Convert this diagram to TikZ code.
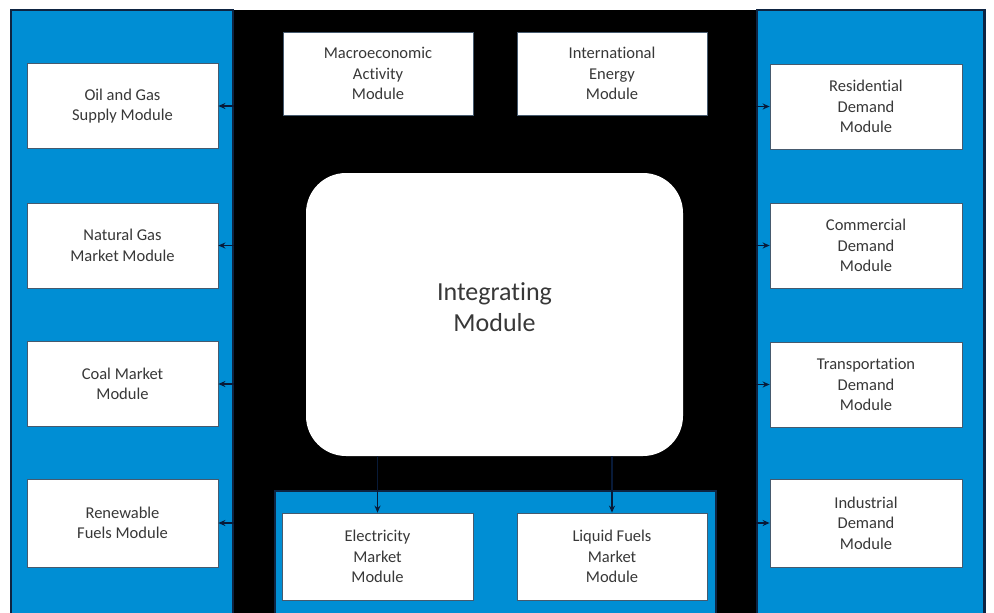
\documentclass[tikz,border=0pt]{standalone}
\usepackage{fontspec}
\setmainfont{Carlito}[Ligatures=NoCommon]
\usetikzlibrary{arrows.meta}
\definecolor{panelblue}{RGB}{0,142,212}
\definecolor{navy}{RGB}{14,36,66}
\definecolor{arrowc}{RGB}{8,26,56}
\definecolor{boxline}{RGB}{70,90,110}
\definecolor{txt}{RGB}{56,56,56}
\begin{document}
\begin{tikzpicture}[x=1pt,y=-1pt,
  modbox/.style={draw=boxline, line width=0.8pt, fill=white, minimum width=191pt,
    minimum height=85pt, align=center, font=\fontsize{16.5}{20.5}\selectfont,
    text=txt, inner sep=0pt},
  panel/.style={draw=navy, line width=1.5pt, fill=panelblue, inner sep=0pt},
  link/.style={-{Stealth[length=7pt,width=6pt]}, draw=arrowc, line width=1.2pt}]
\useasboundingbox (0,0) rectangle (994,613);
\clip (0,0) rectangle (994,613);
\fill[white] (0,0) rectangle (994,613);
% panels
\node[fill=black, inner sep=0pt, minimum width=524pt, minimum height=610pt] (cp) at (495,315) {};
\node[panel, minimum width=222pt, minimum height=610pt] (lp) at (122,315) {};
\node[panel, minimum width=227pt, minimum height=610pt] (rp) at (870.5,315) {};
\draw[navy, line width=3pt] (rp.north east) -- (rp.south east);
\node[panel, minimum width=441pt, minimum height=129pt] (bp) at (495.5,555.5) {};
% left modules
\node[modbox] (oil) at (122.5,106) {Oil and Gas\\Supply Module};
\node[modbox] (ng)  at (122.5,245.5) {Natural Gas\\Market Module};
\node[modbox] (coal) at (122.5,384) {Coal Market\\Module};
\node[modbox, minimum height=88pt] (ren) at (122.5,523) {Renewable\\Fuels Module};
% right modules
\node[modbox, minimum width=192pt] (res) at (866,106.5) {Residential\\Demand\\Module};
\node[modbox, minimum width=192pt] (com) at (866,245.5) {Commercial\\Demand\\Module};
\node[modbox, minimum width=192pt] (tra) at (866,384.5) {Transportation\\Demand\\Module};
\node[modbox, minimum width=192pt, minimum height=88pt] (ind) at (866,523) {Industrial\\Demand\\Module};
% top modules
\node[modbox, minimum width=190pt, minimum height=83pt] (mac) at (378,73.5) {Macroeconomic\\Activity\\Module};
\node[modbox, minimum width=190pt, minimum height=83pt] (int) at (612,73.5) {International\\Energy\\Module};
% integrating
\node[fill=white, rounded corners=40pt, minimum width=377pt, minimum height=283pt,
  inner sep=0pt, align=center, text=txt, text depth=15pt,
  font=\fontsize{26}{31}\selectfont] (integ) at (494.5,314.5) {Integrating\\Module};
% bottom modules
\node[modbox, minimum width=191pt, minimum height=87pt] (ele) at (377.5,556.5) {Electricity\\Market\\Module};
\node[modbox, minimum width=190pt, minimum height=87pt] (liq) at (612,556.5) {Liquid Fuels\\Market\\Module};
% connectors
\draw[link] (oil.east -| lp.east) -- (oil.east);
\draw[link] (ng.east -| lp.east) -- (ng.east);
\draw[link] (coal.east -| lp.east) -- (coal.east);
\draw[link] (ren.east -| lp.east) -- (ren.east);
\draw[link] (res.west -| rp.west) -- (res.west);
\draw[link] (com.west -| rp.west) -- (com.west);
\draw[link] (tra.west -| rp.west) -- (tra.west);
\draw[link] (ind.west -| rp.west) -- (ind.west);
\draw[link] (ele.north |- integ.south) -- (ele.north);
\draw[link] (liq.north |- integ.south) -- (liq.north);
\end{tikzpicture}
\end{document}
